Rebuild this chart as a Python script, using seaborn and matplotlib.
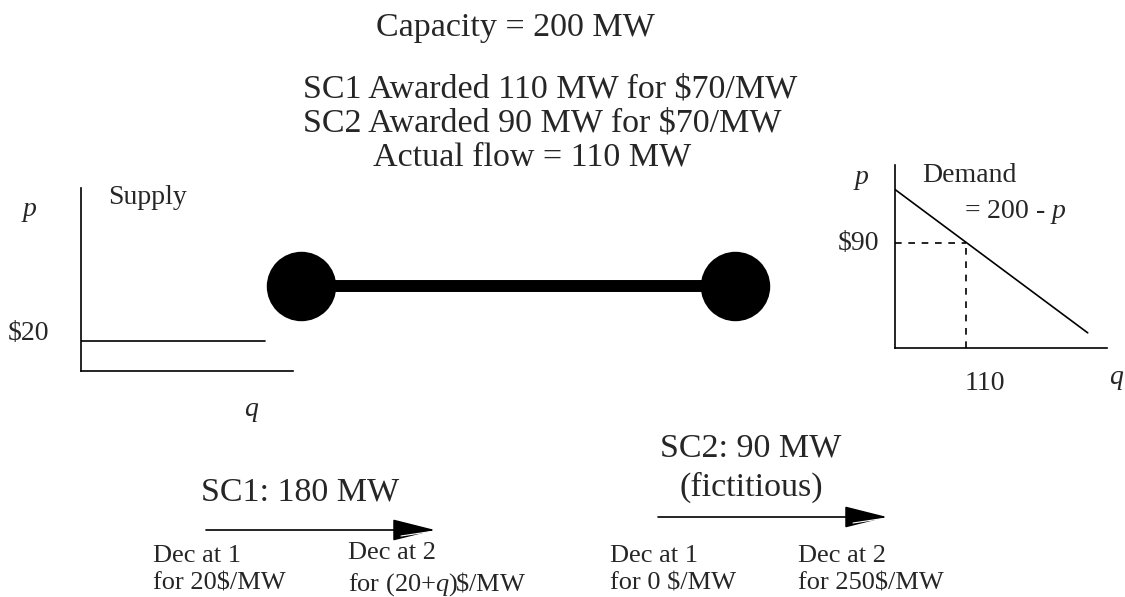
import matplotlib
matplotlib.use("Agg")
import matplotlib.pyplot as plt
import seaborn as sns
import pandas as pd

# values
capacity_mw = 200
awards = [("SC1", 110, 70), ("SC2", 90, 70)]
actual_flow = 110
supply_price = 20
supply_q = [0, 200]
supply_p = [supply_price, supply_price]
demand_q = [0, 300]          # schematic demand line
demand_p = [136, 13]
demand_point = (110, 90)     # q, p at the dashed guide
schedules = ["SC1: 180 MW", "SC2: 90 MW\n(fictitious)"]
dec_1 = ["Dec at 1\nfor 20$/MW", "Dec at 1\nfor 0 $/MW"]
dec_2 = ["Dec at 2\nfor (20+$q$)\\$/MW", "Dec at 2\nfor 250$/MW"]

sns.set_theme(style="white")
plt.rcParams["font.family"] = ["Liberation Serif", "DejaVu Serif"]
plt.rcParams["mathtext.fontset"] = "custom"
plt.rcParams["mathtext.rm"] = "Liberation Serif"
plt.rcParams["mathtext.it"] = "Liberation Serif:italic"

W, H = 1125, 597
fig = plt.figure(figsize=(W / 100, H / 100), dpi=100)
fig.patch.set_facecolor("white")
ax = fig.add_axes([0, 0, 1, 1])
ax.set_xlim(0, W)
ax.set_ylim(H, 0)
ax.axis("off")

big = 24.5
mid = 20
small = 19

# header text
ax.text(376, 36, f"Capacity = {capacity_mw} MW", fontsize=big, va="baseline")
for i, (sc, mw, price) in enumerate(awards):
    ax.text(303, 98 + 34 * i, f"{sc} Awarded {mw} MW for ${price}/MW",
            fontsize=big, va="baseline")
ax.text(373, 165, f"Actual flow = {actual_flow} MW", fontsize=big, va="baseline")

# two-node network
nodes = pd.DataFrame({"x": [301, 735], "y": [286, 286]})
ax.plot(nodes["x"], nodes["y"], color="black", lw=8.6, solid_capstyle="butt", zorder=1)
sns.scatterplot(data=nodes, x="x", y="y", s=2500, color="black", linewidth=0,
                ax=ax, zorder=2, legend=False)


def inset(x0, y0, x1, y1):
    a = fig.add_axes([x0 / W, 1 - y1 / H, (x1 - x0) / W, (y1 - y0) / H])
    a.set_facecolor("none")
    for s in ["top", "right"]:
        a.spines[s].set_visible(False)
    for s in ["left", "bottom"]:
        a.spines[s].set_color("black")
        a.spines[s].set_linewidth(1.2)
    a.set_xticks([])
    a.set_yticks([])
    return a


# supply curve
sa = inset(81, 188, 293, 371)
sa.set_xlim(0, 230)
sa.set_ylim(0, 120)
sns.lineplot(x=supply_q, y=supply_p, ax=sa, color="black", lw=1.2)
ax.text(108, 198, "Supply", fontsize=mid, va="center")
ax.text(30, 210, "p", fontsize=mid, style="italic", ha="center", va="center")
ax.text(8, 333, f"${supply_price}", fontsize=mid, va="center")
ax.text(251, 410, "q", fontsize=mid, style="italic", ha="center", va="center")

# demand curve
da = inset(895, 165, 1107, 348)
da.set_xlim(0, 330)
da.set_ylim(0, 157)
sns.lineplot(x=demand_q, y=demand_p, ax=da, color="black", lw=1.2)
qd, pd_ = demand_point
da.plot([0, qd], [pd_, pd_], color="black", lw=1.2, ls=(0, (4, 4)))
da.plot([qd, qd], [0, pd_], color="black", lw=1.2, ls=(0, (4, 4)))
ax.text(922, 175, "Demand", fontsize=mid, va="center")
ax.text(964, 212, "= 200 - $p$", fontsize=mid, va="center")
ax.text(862, 178, "p", fontsize=mid, style="italic", ha="center", va="center")
ax.text(838, 243, f"${pd_}", fontsize=mid, va="center")
ax.text(985, 383, f"{qd}", fontsize=mid, ha="center", va="center")
ax.text(1116, 378, "q", fontsize=mid, style="italic", ha="center", va="center")

# schedule arrows
arrows = [(206, 435, 530, 300, 492), (658, 887, 517, 751, 468)]
left_txt = [153, 610]
right_txt = [348, 798]
for i, (xa, xb, ya, xt, yt) in enumerate(arrows):
    ax.annotate("", xy=(xb, ya), xytext=(xa, ya),
                arrowprops=dict(arrowstyle="-|>,head_length=2.7,head_width=0.68",
                                mutation_scale=10, color="black", lw=1.2,
                                shrinkA=0, shrinkB=0))
    # thin white stroke inside the head, as in the original drawing
    ax.plot([xb - 34, xb - 4], [ya + 6, ya + 1.5], color="white", lw=0.8, zorder=5)
    ax.text(xt, yt, schedules[i], fontsize=big, ha="center", va="center",
            linespacing=1.3)
    ax.text(left_txt[i], 570, dec_1[i], fontsize=small, va="center", linespacing=1.32)
    ax.text(right_txt[i], 570, dec_2[i], fontsize=small, va="center", linespacing=1.32)

fig.savefig("out.png", dpi=100, facecolor="white")
